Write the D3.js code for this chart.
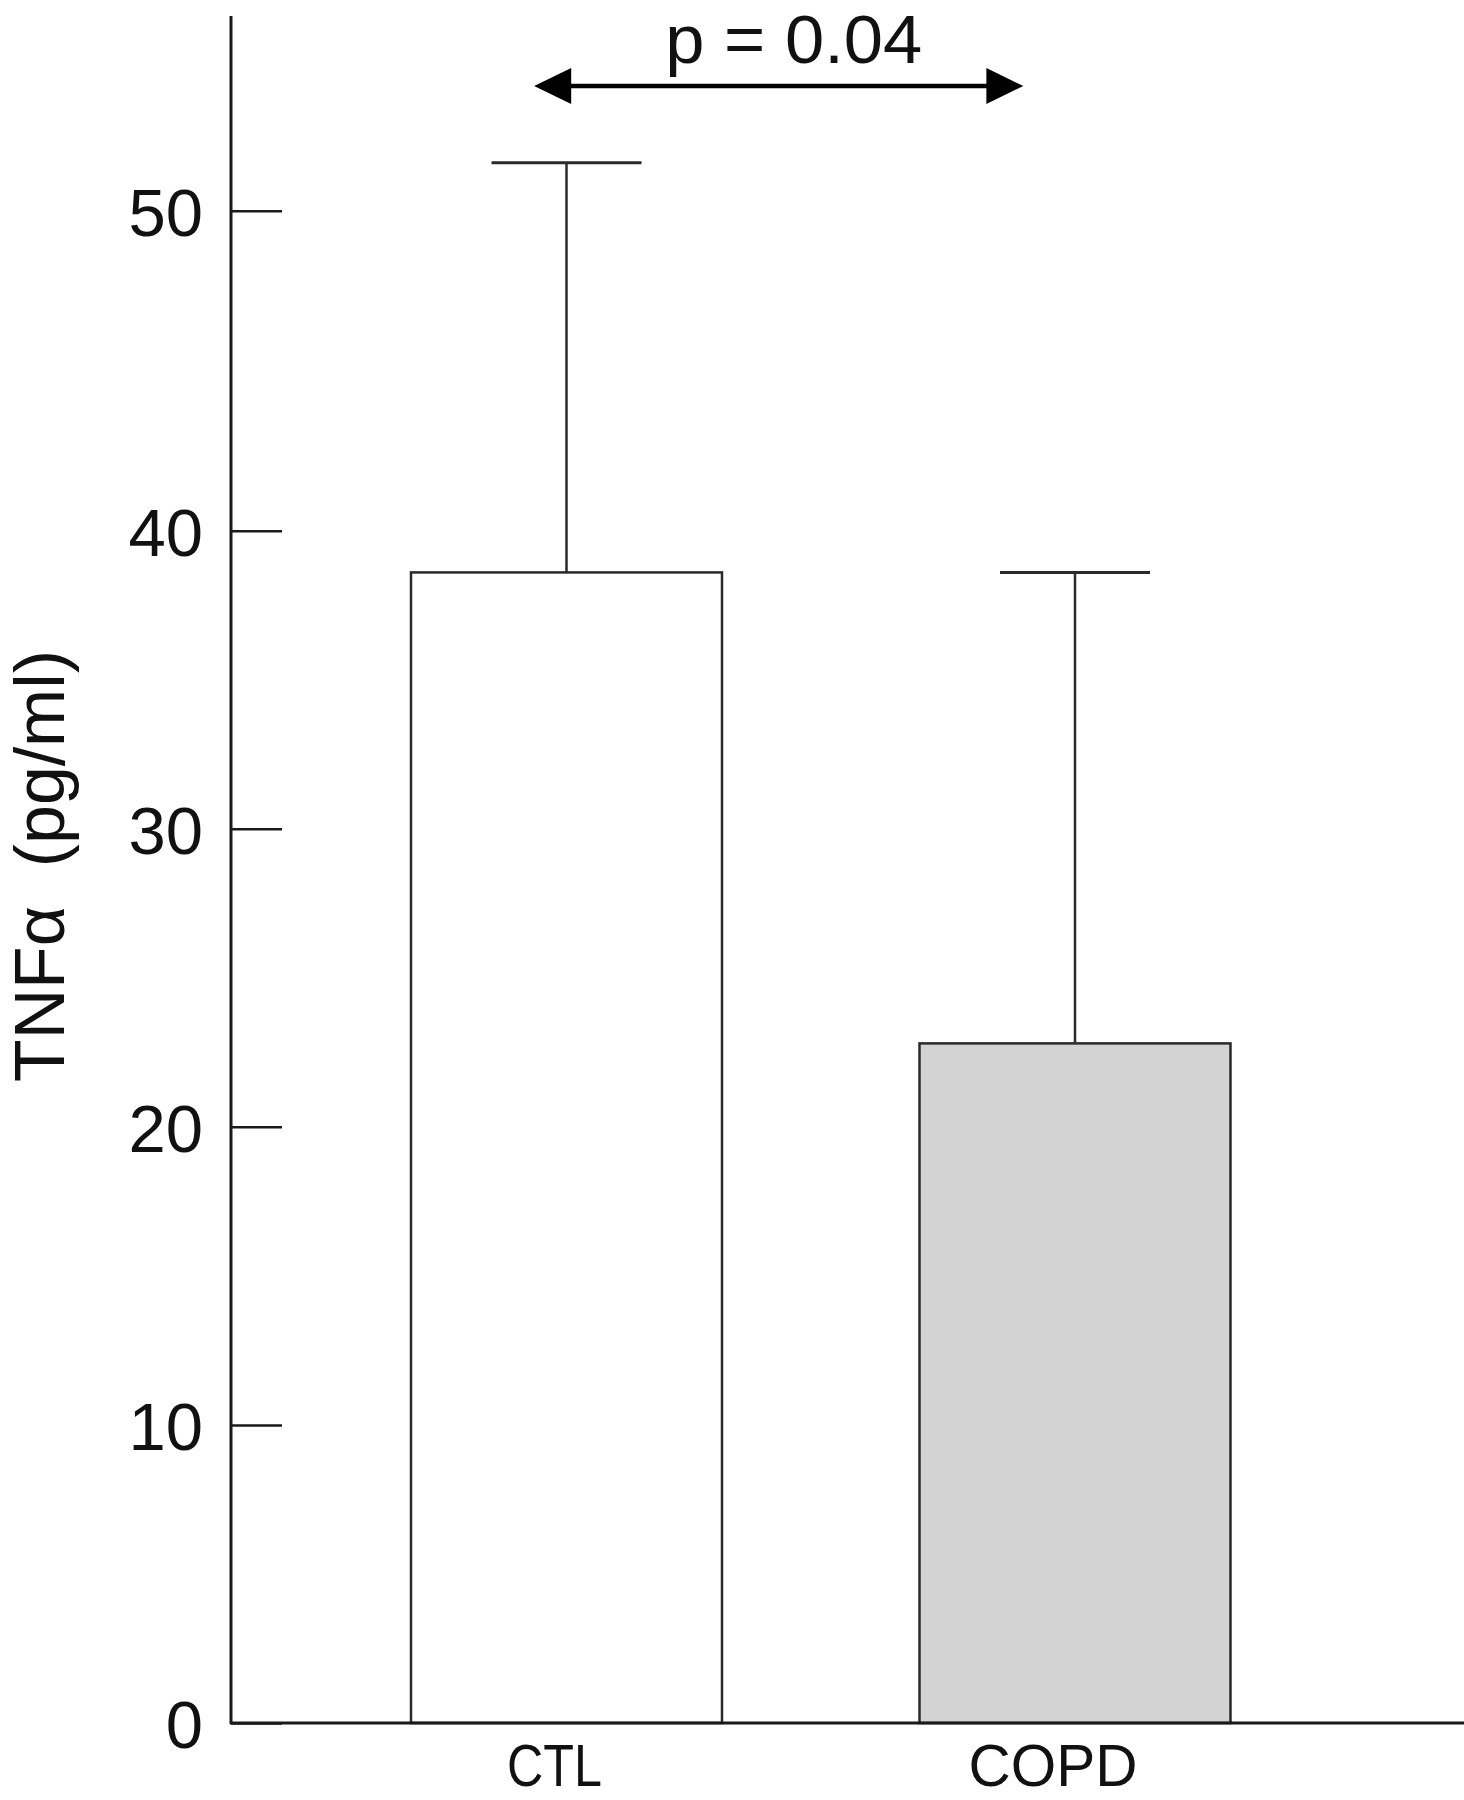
<!DOCTYPE html>
<html>
<head>
<meta charset="utf-8">
<script src="https://cdn.jsdelivr.net/npm/d3@7"></script>
<style>
  html, body { margin: 0; padding: 0; background: #fff; }
  svg { display: block; }
  text { font-family: "Liberation Sans", Arial, sans-serif; fill: #111; }
</style>
</head>
<body>
<svg id="chart" width="1464" height="1800"></svg>
<script>
// ---- data ----
const categories = ["CTL", "COPD"];
const means = [38.6, 22.8];
const upperErr = [51.5, 38.6];   // mean + SD (top of error bar)
const fills = ["#ffffff", "#d3d3d3"];
const yTicks = [0, 10, 20, 30, 40, 50];
const yLabel = "TNFα  (pg/ml)";
const pLabel = "p = 0.04";

// ---- layout ----
const svg = d3.select("#chart");
const axisX = 231, axisBottom = 1723, axisTop = 16, axisRight = 1464;

// y axis in the original figure is slightly stretched above 40
const y = d3.scaleLinear().domain([0, 40, 50]).range([axisBottom, 530.7, 210.7]);

const x = d3.scaleBand()
  .domain(categories)
  .range([axisX, 1410.5])
  .paddingInner(0.3884)
  .paddingOuter(0.354);
const bw = x.bandwidth();

const ink = "#1a1a1a";

// bars
svg.selectAll("rect.bar")
  .data(categories)
  .join("rect")
  .attr("class", "bar")
  .attr("x", d => x(d))
  .attr("y", (d, i) => y(means[i]))
  .attr("width", bw)
  .attr("height", (d, i) => y(0) - y(means[i]))
  .attr("fill", (d, i) => fills[i])
  .attr("stroke", "#2a2a2a")
  .attr("stroke-width", 2.5);

// error bars (upper only)
const capHalf = 75;
categories.forEach((c, i) => {
  const cx = x(c) + bw / 2;
  svg.append("line")
    .attr("x1", cx).attr("x2", cx)
    .attr("y1", y(means[i])).attr("y2", y(upperErr[i]))
    .attr("stroke", "#2a2a2a").attr("stroke-width", 2.5);
  svg.append("line")
    .attr("x1", cx - capHalf).attr("x2", cx + capHalf)
    .attr("y1", y(upperErr[i])).attr("y2", y(upperErr[i]))
    .attr("stroke", "#2a2a2a").attr("stroke-width", 3);
});

// y axis
const yAxis = d3.axisLeft(y)
  .tickValues(yTicks)
  .tickFormat(d3.format("d"))
  .tickSizeInner(-51)
  .tickSizeOuter(0)
  .tickPadding(28);
const gy = svg.append("g").attr("transform", `translate(${axisX},0)`).call(yAxis);
gy.select(".domain").remove();
gy.selectAll(".tick line").attr("stroke", ink).attr("stroke-width", 2.5);
gy.selectAll(".tick text")
  .attr("font-size", 67)
  .attr("dy", "0.37em")
  .attr("fill", "#111")
  .style("font-family", "'Liberation Sans', Arial, sans-serif");

svg.append("line")
  .attr("x1", axisX).attr("x2", axisX)
  .attr("y1", axisTop).attr("y2", axisBottom + 1)
  .attr("stroke", ink).attr("stroke-width", 3);

// x axis
svg.append("line")
  .attr("x1", axisX - 1).attr("x2", axisRight)
  .attr("y1", axisBottom).attr("y2", axisBottom)
  .attr("stroke", ink).attr("stroke-width", 3);

const xLabelWidths = { "CTL": 95, "COPD": 169 };
svg.selectAll("text.xlab")
  .data(categories)
  .join("text")
  .attr("class", "xlab")
  .attr("x", d => x(d) + bw / 2 - (d === "CTL" ? 12 : 22))
  .attr("y", 1786)
  .attr("text-anchor", "middle")
  .attr("font-size", 60)
  .attr("textLength", d => xLabelWidths[d])
  .attr("lengthAdjust", "spacingAndGlyphs")
  .text(d => d);

// y label
svg.append("text")
  .attr("transform", "translate(64,866) rotate(-90)")
  .attr("text-anchor", "middle")
  .attr("font-size", 71)
  .attr("textLength", 432)
  .attr("lengthAdjust", "spacingAndGlyphs")
  .style("white-space", "pre")
  .text(yLabel);

// significance annotation
const arrowY = 86;
const ax1 = x("CTL") + bw * 0.396;
const ax2 = x("COPD") + bw * 0.334;
const headL = 37, headH = 18;
svg.append("line")
  .attr("x1", ax1 + headL - 2).attr("x2", ax2 - headL + 2)
  .attr("y1", arrowY).attr("y2", arrowY)
  .attr("stroke", "#000").attr("stroke-width", 4.5);
svg.append("path")
  .attr("d", `M${ax1},${arrowY} L${ax1 + headL},${arrowY - headH} L${ax1 + headL},${arrowY + headH} Z`)
  .attr("fill", "#000");
svg.append("path")
  .attr("d", `M${ax2},${arrowY} L${ax2 - headL},${arrowY - headH} L${ax2 - headL},${arrowY + headH} Z`)
  .attr("fill", "#000");
svg.append("text")
  .attr("x", (ax1 + ax2) / 2 + 15)
  .attr("y", 63)
  .attr("text-anchor", "middle")
  .attr("font-size", 69)
  .attr("textLength", 257)
  .attr("lengthAdjust", "spacingAndGlyphs")
  .text(pLabel);
</script>
</body>
</html>
